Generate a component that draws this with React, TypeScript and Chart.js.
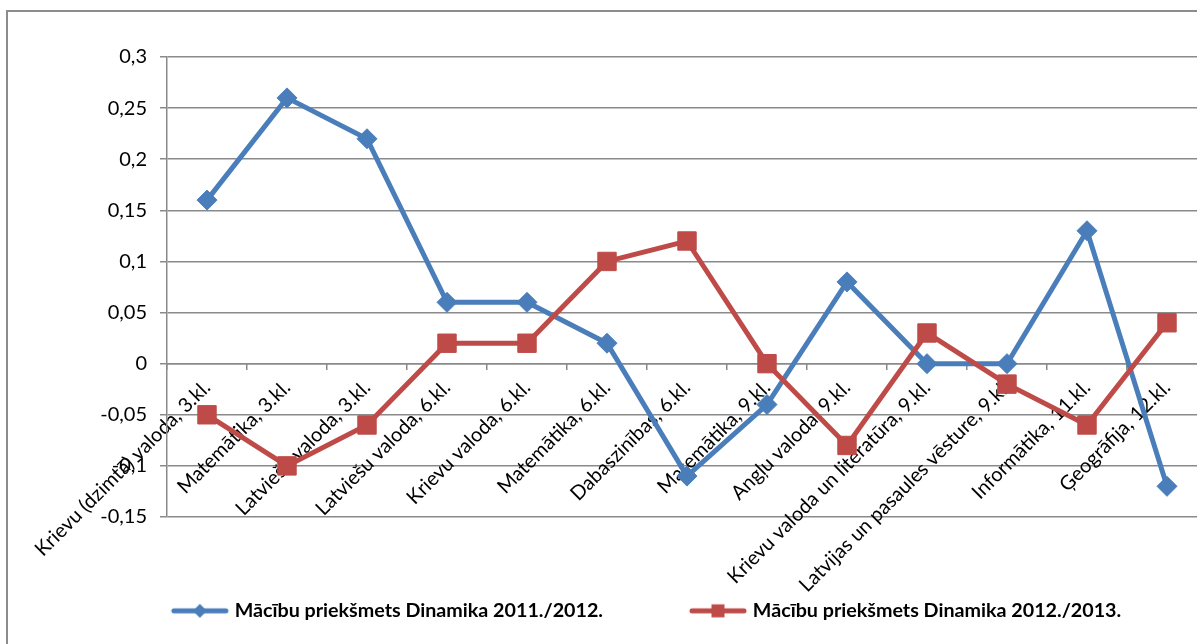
import React, { useEffect, useRef } from "react";
import { Chart, registerables } from "chart.js";

Chart.register(...registerables);

const categories: string[] = [
  "Krievu (dzimtā) valoda, 3.kl.",
  "Matemātika, 3.kl.",
  "Latviešu valoda, 3.kl.",
  "Latviešu valoda, 6.kl.",
  "Krievu valoda, 6.kl.",
  "Matemātika, 6.kl.",
  "Dabaszinības, 6.kl.",
  "Matemātika, 9.kl.",
  "Angļu valoda, 9.kl.",
  "Krievu valoda un literatūra, 9.kl.",
  "Latvijas un pasaules vēsture, 9.kl.",
  "Informātika, 11.kl.",
  "Ģeogrāfija, 12.kl.",
];

const series2011: number[] = [0.16, 0.26, 0.22, 0.06, 0.06, 0.02, -0.11, -0.04, 0.08, 0, 0, 0.13, -0.12];
const series2012: number[] = [-0.05, -0.1, -0.06, 0.02, 0.02, 0.1, 0.12, 0, -0.08, 0.03, -0.02, -0.06, 0.04];

const seriesNames: string[] = [
  "Mācību priekšmets Dinamika 2011./2012.",
  "Mācību priekšmets Dinamika 2012./2013.",
];

const yMin = -0.15;
const yMax = 0.3;
const yStep = 0.05;

const BLUE = "#4A7EBB";
const RED = "#BE4B48";
const GRID = "#8a8a8a";
const FONT = "Lato";

const W = 1290;
const H = 644;

function makeLegendImage(color: string, style: "diamond" | "square"): HTMLCanvasElement {
  const c = document.createElement("canvas");
  c.width = 70;
  c.height = 24;
  const ctx = c.getContext("2d")!;
  ctx.strokeStyle = color;
  ctx.lineWidth = 5;
  ctx.lineCap = "round";
  ctx.beginPath();
  ctx.moveTo(12, 12);
  ctx.lineTo(64, 12);
  ctx.stroke();
  ctx.fillStyle = color;
  ctx.beginPath();
  const cx = 38;
  if (style === "diamond") {
    ctx.moveTo(cx - 7, 12);
    ctx.lineTo(cx, 5);
    ctx.lineTo(cx + 7, 12);
    ctx.lineTo(cx, 19);
  } else {
    ctx.rect(cx - 6.5, 5.5, 13, 13);
  }
  ctx.closePath();
  ctx.fill();
  return c;
}

function fmt(v: number): string {
  const r = Math.round(v * 100) / 100;
  return String(r === 0 ? 0 : r).replace(".", ",");
}

export default function App() {
  const ref = useRef<HTMLCanvasElement | null>(null);

  useEffect(() => {
    if (!ref.current) return;
    const imgs = [makeLegendImage(BLUE, "diamond"), makeLegendImage(RED, "square")];
    const colors = [BLUE, RED];
    const chart = new Chart(ref.current, {
      type: "line",
      data: {
        labels: categories,
        datasets: [
          {
            label: seriesNames[0],
            data: series2011,
            borderColor: BLUE,
            backgroundColor: BLUE,
            borderWidth: 5,
            pointStyle: "rectRot",
            pointRadius: 10,
            pointBorderWidth: 1,
            pointBackgroundColor: BLUE,
            pointBorderColor: BLUE,
            tension: 0,
            order: 2,
            yAxisID: "y",
            xAxisID: "x",
          },
          {
            label: seriesNames[1],
            data: series2012,
            borderColor: RED,
            backgroundColor: RED,
            borderWidth: 5,
            pointStyle: "rect",
            pointRadius: 13,
            pointBorderWidth: 1,
            pointBackgroundColor: RED,
            pointBorderColor: RED,
            tension: 0,
            order: 1,
            yAxisID: "y",
            xAxisID: "x",
          },
        ],
      },
      options: {
        animation: false,
        responsive: false,
        devicePixelRatio: 1,
        layout: { padding: { top: 57, left: 0, right: 0, bottom: 13.3 } },
        plugins: {
          tooltip: { enabled: false },
          legend: {
            position: "bottom",
            labels: {
              usePointStyle: true,
              pointStyleWidth: 56,
              padding: 84,
              color: "#000",
              font: { family: FONT, size: 19.7, weight: "bold" },
              generateLabels: () =>
                seriesNames.map((name, i) => ({
                  text: name,
                  pointStyle: imgs[i],
                  fillStyle: colors[i],
                  strokeStyle: colors[i],
                  lineWidth: 0,
                  hidden: false,
                  datasetIndex: i,
                  fontColor: "#000",
                })),
            },
          },
        },
        scales: {
          x: {
            type: "category",
            offset: true,
            position: { y: 0 } as any,
            grid: {
              display: true,
              drawOnChartArea: false,
              drawTicks: true,
              tickLength: 12,
              offset: true,
              color: "rgba(0,0,0,0)",
              tickColor: "rgba(0,0,0,0)",
              lineWidth: 1.5,
            },
            border: { display: true, color: GRID, width: 1.5 },
            ticks: {
              autoSkip: false,
              minRotation: 45,
              maxRotation: 45,
              padding: 0,
              labelOffset: 0,
              color: "#000",
              font: { family: FONT, size: 20 },
            },
          },
          xTicks: {
            type: "category",
            axis: "x",
            offset: true,
            position: { y: 0 } as any,
            grid: {
              display: true,
              drawOnChartArea: false,
              drawTicks: true,
              tickLength: 6,
              offset: true,
              color: GRID,
              tickColor: GRID,
              lineWidth: 1.5,
            },
            border: { display: false },
            ticks: { display: false, autoSkip: false },
          } as any,
          y: {
            type: "linear",
            position: "left",
            min: yMin,
            max: yMax,
            grid: { color: GRID, lineWidth: 1.5, tickLength: 7, drawTicks: true },
            border: { display: true, color: GRID, width: 1.5 },
            ticks: {
              stepSize: yStep,
              padding: 13,
              color: "#000",
              font: { family: FONT, size: 20 },
              callback: (v: any) => fmt(Number(v)),
            },
            afterFit: (s: any) => {
              s.width = 167;
            },
          },
          y2: {
            type: "linear",
            position: "right",
            min: 0,
            max: 1,
            display: true,
            grid: { display: false, drawTicks: false },
            border: { display: false },
            ticks: { display: false },
            afterFit: (s: any) => {
              s.width = W - 1207;
            },
          },
        },
      },
    });
    return () => chart.destroy();
  }, []);

  return (
    <div
      style={{
        position: "fixed",
        left: 0,
        top: 0,
        width: 1197,
        height: 644,
        overflow: "hidden",
        background: "#fff",
      }}
    >
      <canvas
        ref={ref}
        width={W}
        height={H}
        style={{ position: "absolute", left: 0, top: 0, width: W, height: H }}
      />
      <div
        style={{
          position: "absolute",
          left: 6,
          top: 10,
          width: 1400,
          height: 800,
          border: "2px solid #8c8c8c",
          pointerEvents: "none",
        }}
      />
    </div>
  );
}
